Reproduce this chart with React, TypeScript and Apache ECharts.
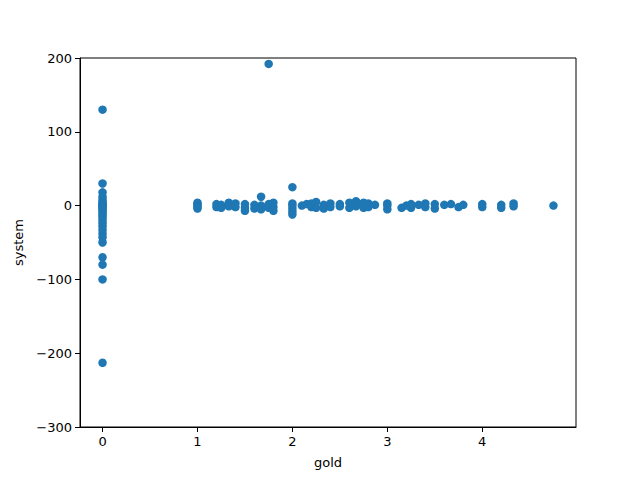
import React, { useEffect, useRef } from "react";
import * as echarts from "echarts";

const goldX: number[] = [
  0, 0, 0, 0, 0, 0, 0, 0, 0, 0, 0, 0, 0, 0, 0, 0, 0, 0, 0, 0, 0, 0, 0, 0, 0, 0, 0,
  1, 1, 1, 1, 1,
  1.2, 1.2, 1.25, 1.25, 1.33, 1.33, 1.4, 1.4, 1.5, 1.5, 1.5, 1.6, 1.6, 1.67, 1.67, 1.67, 1.75, 1.75, 1.75, 1.8, 1.8, 1.8,
  2, 2, 2, 2, 2, 2,
  2.1, 2.15, 2.2, 2.2, 2.25, 2.25, 2.33, 2.33, 2.4, 2.4, 2.5, 2.5, 2.6, 2.6, 2.67, 2.67, 2.7, 2.75, 2.75, 2.8, 2.8, 2.87,
  3, 3, 3,
  3.15, 3.2, 3.25, 3.25, 3.33, 3.4, 3.4, 3.5, 3.5, 3.6, 3.67, 3.75, 3.8,
  4, 4, 4.2, 4.2, 4.33, 4.33, 4.75,
];

const systemY: number[] = [
  130, 30, 18, 12, 8, 5, 3, 1, 0, -1, -3, -5, -7, -10, -13, -16, -20, -24, -28, -33, -38, -43, -50, -70, -80, -100, -213,
  4, 2, 0, -2, -4,
  2, -2, 1, -3, 4, -1, 3, -2, 2, -3, -7, 1, -4, 12, 0, -5, 192, 2, -3, 4, -2, -7,
  25, 3, 0, -4, -8, -12,
  0, 2, -2, 3, 5, -3, 1, -4, 3, -2, 2, -1, 4, -3, 6, -1, 2, 4, -3, 3, -2, 1,
  3, 0, -5,
  -3, 0, 2, -3, 1, 3, -2, 2, -4, 1, 2, -2, 1,
  2, -2, 1, -3, 3, -1, 0,
];

const xTicks: number[] = [0, 1, 2, 3, 4];

export default function App() {
  const ref = useRef<HTMLDivElement>(null);
  useEffect(() => {
    if (!ref.current) return;
    const chart = echarts.init(ref.current, undefined, { renderer: "svg" });
    const font = "DejaVu Sans";
    chart.setOption({
      animation: false,
      grid: {
        left: 80,
        right: 64,
        top: 58,
        bottom: 53,
        show: true,
        borderColor: "#000",
        borderWidth: 1,
        backgroundColor: "transparent",
      },
      xAxis: {
        type: "value",
        min: -0.2375,
        max: 4.9875,
        name: "gold",
        nameLocation: "middle",
        nameGap: 29,
        nameTextStyle: { fontFamily: font, fontSize: 13, color: "#000" },
        axisLine: { show: true, onZero: false, lineStyle: { color: "#000", width: 1 } },
        splitLine: { show: false },
        axisTick: {
          show: true,
          inside: false,
          length: 5,
          lineStyle: { color: "#000" },
          customValues: xTicks,
        },
        axisLabel: {
          fontFamily: font,
          fontSize: 13,
          color: "#000",
          margin: 8,
          customValues: xTicks,
        },
      },
      yAxis: {
        type: "value",
        min: -300,
        max: 200,
        interval: 100,
        name: "system",
        nameLocation: "middle",
        nameGap: 52,
        nameTextStyle: { fontFamily: font, fontSize: 13, color: "#000" },
        axisLine: { show: true, onZero: false, lineStyle: { color: "#000", width: 1 } },
        splitLine: { show: false },
        axisTick: { show: true, inside: false, length: 5, lineStyle: { color: "#000" } },
        axisLabel: {
          fontFamily: font,
          fontSize: 13,
          color: "#000",
          margin: 8,
          formatter: (v: number) => (v < 0 ? "\u2212" + Math.abs(v) : String(v)),
        },
      },
      series: [
        {
          type: "scatter",
          symbol: "circle",
          symbolSize: 8.5,
          itemStyle: { color: "#1f77b4", opacity: 1 },
          data: goldX.map((x, i) => [x, systemY[i]]),
        },
      ],
    });
    return () => chart.dispose();
  }, []);
  return <div ref={ref} style={{ width: 640, height: 480, margin: -8 }} />;
}
